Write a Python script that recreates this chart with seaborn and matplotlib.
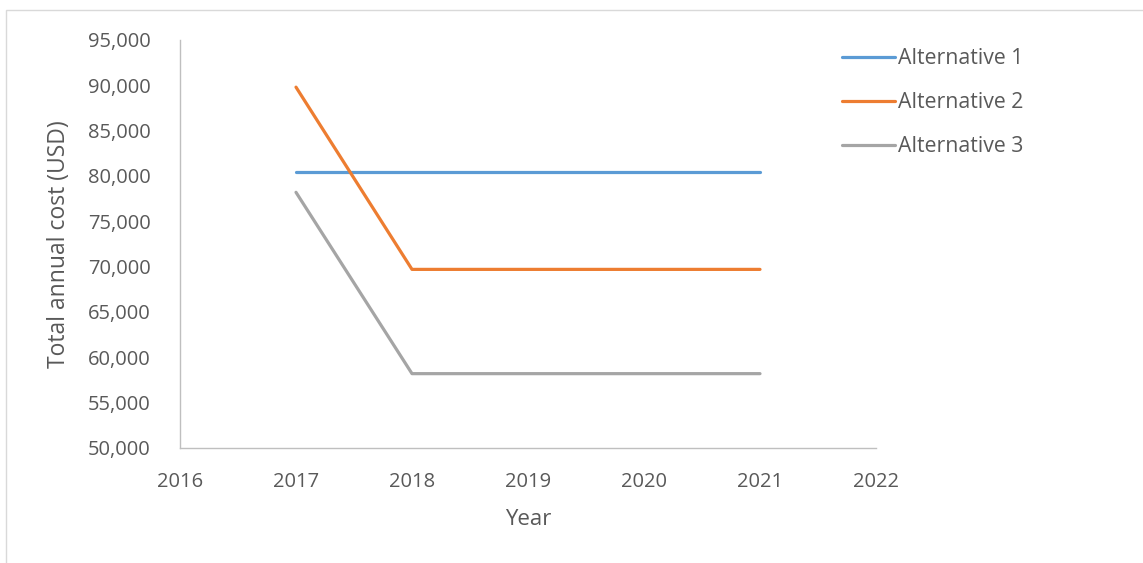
import matplotlib
matplotlib.use("Agg")
import matplotlib.pyplot as plt
import matplotlib.patches as mpatches
import numpy as np
import pandas as pd
import seaborn as sns
from matplotlib.ticker import FuncFormatter

years = [2017, 2018, 2019, 2020, 2021]
alt1 = [80400, 80400, 80400, 80400, 80400]
alt2 = [89800, 69700, 69700, 69700, 69700]
alt3 = [78200, 58200, 58200, 58200, 58200]
series_names = ["Alternative 1", "Alternative 2", "Alternative 3"]

df = pd.DataFrame({
    "Year": years * 3,
    "Cost": alt1 + alt2 + alt3,
    "Series": [series_names[0]] * 5 + [series_names[1]] * 5 + [series_names[2]] * 5,
})

sns.set_theme(style="white")
plt.rcParams["font.family"] = ["Open Sans", "DejaVu Sans"]
text_color = "#595959"
spine_color = "#BFBFBF"
palette = {"Alternative 1": "#5B9BD5", "Alternative 2": "#ED7D31", "Alternative 3": "#A5A5A5"}

fig = plt.figure(figsize=(11.43, 5.63), dpi=100)
ax = fig.add_axes([180 / 1143, 1 - 448 / 563, (876 - 180) / 1143, (448 - 40) / 563])

sns.lineplot(data=df, x="Year", y="Cost", hue="Series", palette=palette,
             linewidth=2.3, ax=ax, legend=False, solid_capstyle="round")

ax.set_xlim(2016, 2022)
ax.set_ylim(50000, 95000)
ax.set_xticks(range(2016, 2023))
ax.set_yticks(range(50000, 95001, 5000))
ax.yaxis.set_major_formatter(FuncFormatter(lambda v, p: f"{int(v):,}"))
ax.tick_params(axis="both", length=0, labelsize=14.5, colors=text_color)
ax.tick_params(axis="y", pad=21)
ax.tick_params(axis="x", pad=17.5)

for side in ["top", "right"]:
    ax.spines[side].set_visible(False)
for side in ["left", "bottom"]:
    ax.spines[side].set_color(spine_color)
    ax.spines[side].set_linewidth(1.0)

ax.set_xlabel("Year", fontsize=16, color=text_color, labelpad=12)
ax.set_ylabel("Total annual cost (USD)", fontsize=16.5, color=text_color, labelpad=12)

handles = [plt.Line2D([], [], color=palette[n], linewidth=2.3, solid_capstyle="round") for n in series_names]
fig.legend(handles, series_names, loc="upper left", bbox_to_anchor=(833 / 1143, 1 - 40 / 563),
           frameon=False, fontsize=15.3, labelcolor=text_color, handlelength=2.5,
           handletextpad=0.15, labelspacing=1.08, borderaxespad=0)

# light outer frame around the chart area
fig.patches.append(mpatches.Rectangle((6 / 1143, -0.05), 1.2, 1 - 10 / 563 + 0.05,
                                      transform=fig.transFigure, fill=False,
                                      edgecolor="#D9D9D9", linewidth=1.0))

fig.savefig("out.png", dpi=100)
